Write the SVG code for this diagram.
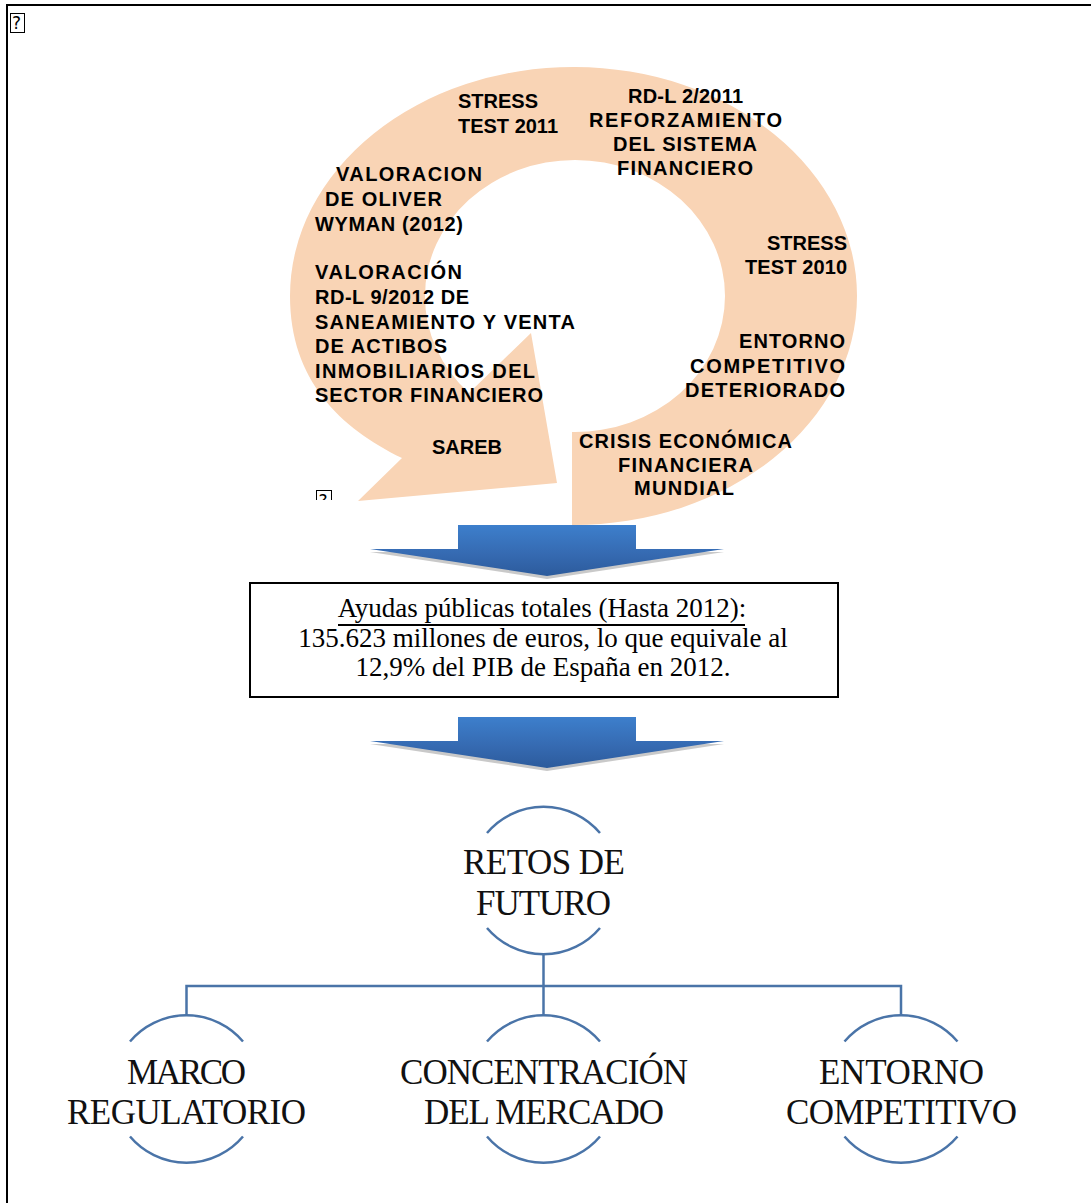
<svg xmlns="http://www.w3.org/2000/svg" width="1091" height="1203" viewBox="0 0 1091 1203">
  <defs>
    <linearGradient id="blueArrow" x1="0" y1="0" x2="0" y2="1">
      <stop offset="0" stop-color="#3D7FCC"/>
      <stop offset="0.6" stop-color="#3569B0"/>
      <stop offset="1" stop-color="#2C5B9C"/>
    </linearGradient>
    <clipPath id="clipLower">
      <rect x="300" y="470" width="60" height="30"/>
    </clipPath>
    <path id="downArrow" d="M88,0 H266 V24 H354 L177,51 L0,24 H88 Z"/>
  </defs>
  <style>
    .frame { stroke: #000; stroke-width: 2; fill: none; }
    .ring { fill: #F9D4B5; }
    .lbl { font-family: "Liberation Sans", Arial, sans-serif; font-weight: bold; font-size: 20px; fill: #000; }
    .box { fill: #fff; stroke: #000; stroke-width: 2; }
    .boxtxt { font-family: "Liberation Serif", "Times New Roman", serif; font-size: 27px; fill: #000; text-anchor: middle; }
    .arc { fill: none; stroke: #4A74A8; stroke-width: 2.5; }
    .conn { fill: none; stroke: #4A74A8; stroke-width: 2.5; }
    .ctxt { font-family: "Liberation Serif", "Times New Roman", serif; font-size: 35px; fill: #111; }
    .shadow { fill: #9C9C9C; opacity: 0.55; }
    .arrow { fill: url(#blueArrow); }
    .icon { fill: #fff; stroke: #000; stroke-width: 1; }
    .icontxt { font-family: "DejaVu Sans", sans-serif; font-size: 17px; fill: #000; }
  </style>

  <!-- page frame -->
  <path class="frame" d="M7,1203 V5 H1091"/>

  <!-- missing picture placeholders -->
  <g id="placeholder-top">
    <rect class="icon" x="10.5" y="13.5" width="14" height="19"/>
    <text class="icontxt" x="12" y="29">?</text>
  </g>
  <g id="placeholder-lower" clip-path="url(#clipLower)">
    <rect class="icon" x="316.5" y="490.5" width="15" height="19"/>
    <text class="icontxt" x="318.5" y="507">?</text>
  </g>

  <!-- circular arrow -->
  <g id="cycle-ring">
    <path class="ring" d="M572,432 L572,525
      A283.5 229 0 0 0 857,296
      A283.5 229 0 0 0 575,67
      A283.5 229 0 0 0 290,296
      C290,380 340,428 402,458
      L358,501 L557,483 L531,333 L469,393
      A150 136 0 0 1 425,296
      A150 136 0 0 1 575,160
      A150 136 0 0 1 725,296
      A150 136 0 0 1 572,432 Z"/>
  </g>

  <g id="lbl-stress-2011">
    <text class="lbl" x="458" y="108" textLength="80" lengthAdjust="spacing">STRESS</text>
    <text class="lbl" x="458" y="133" textLength="100" lengthAdjust="spacing">TEST 2011</text>
  </g>
  <g id="lbl-rdl-2-2011">
    <text class="lbl" x="628" y="103" textLength="115" lengthAdjust="spacing">RD-L 2/2011</text>
    <text class="lbl" x="589" y="127" textLength="193" lengthAdjust="spacing">REFORZAMIENTO</text>
    <text class="lbl" x="613" y="151" textLength="144" lengthAdjust="spacing">DEL SISTEMA</text>
    <text class="lbl" x="617" y="175" textLength="136" lengthAdjust="spacing">FINANCIERO</text>
  </g>
  <g id="lbl-stress-2010">
    <text class="lbl" x="767" y="250" textLength="80" lengthAdjust="spacing">STRESS</text>
    <text class="lbl" x="745" y="274" textLength="102" lengthAdjust="spacing">TEST 2010</text>
  </g>
  <g id="lbl-entorno">
    <text class="lbl" x="739" y="348" textLength="106" lengthAdjust="spacing">ENTORNO</text>
    <text class="lbl" x="690" y="373" textLength="155" lengthAdjust="spacing">COMPETITIVO</text>
    <text class="lbl" x="685" y="397" textLength="160" lengthAdjust="spacing">DETERIORADO</text>
  </g>
  <g id="lbl-crisis">
    <text class="lbl" x="579" y="448" textLength="213" lengthAdjust="spacing">CRISIS ECONÓMICA</text>
    <text class="lbl" x="618" y="472" textLength="135" lengthAdjust="spacing">FINANCIERA</text>
    <text class="lbl" x="634" y="495" textLength="100" lengthAdjust="spacing">MUNDIAL</text>
  </g>
  <g id="lbl-oliver-wyman">
    <text class="lbl" x="336" y="181" textLength="146" lengthAdjust="spacing">VALORACION</text>
    <text class="lbl" x="325" y="206" textLength="117" lengthAdjust="spacing">DE OLIVER</text>
    <text class="lbl" x="315" y="231" textLength="148" lengthAdjust="spacing">WYMAN (2012)</text>
  </g>
  <g id="lbl-rdl-9-2012">
    <text class="lbl" x="315" y="279" textLength="147" lengthAdjust="spacing">VALORACIÓN</text>
    <text class="lbl" x="315" y="304" textLength="154" lengthAdjust="spacing">RD-L 9/2012  DE</text>
    <text class="lbl" x="315" y="329" textLength="260" lengthAdjust="spacing">SANEAMIENTO Y VENTA</text>
    <text class="lbl" x="315" y="353" textLength="132" lengthAdjust="spacing">DE ACTIBOS</text>
    <text class="lbl" x="315" y="378" textLength="220" lengthAdjust="spacing">INMOBILIARIOS DEL</text>
    <text class="lbl" x="315" y="402" textLength="228" lengthAdjust="spacing">SECTOR FINANCIERO</text>
  </g>
  <g id="lbl-sareb">
    <text class="lbl" x="432" y="454" textLength="70" lengthAdjust="spacing">SAREB</text>
  </g>

  <!-- block arrows -->
  <g id="arrow-1">
    <use href="#downArrow" class="shadow" x="370" y="528"/>
    <use href="#downArrow" class="arrow" x="370" y="525"/>
  </g>

  <g id="ayudas-box">
    <rect class="box" x="250" y="583" width="588" height="114"/>
    <text class="boxtxt" x="542" y="617">Ayudas públicas totales (Hasta 2012):</text>
    <line x1="338" y1="625" x2="745" y2="625" stroke="#000" stroke-width="2"/>
    <text class="boxtxt" x="543" y="647">135.623 millones de euros, lo que equivale al</text>
    <text class="boxtxt" x="543" y="676">12,9% del PIB de España en 2012.</text>
  </g>

  <g id="arrow-2">
    <use href="#downArrow" class="shadow" x="370" y="720"/>
    <use href="#downArrow" class="arrow" x="370" y="717"/>
  </g>

  <!-- hierarchy connectors -->
  <g id="connectors">
    <path class="conn" d="M543.5,955 V1015"/>
    <path class="conn" d="M186.5,1015 V986 H901 V1015"/>
  </g>

  <g id="retos-de-futuro">
    <path class="arc" d="M487,833 A74 74 0 0 1 600,833"/>
    <path class="arc" d="M487,928 A74 74 0 0 0 600,928"/>
    <text class="ctxt" x="463" y="874" textLength="162" lengthAdjust="spacing">RETOS DE</text>
    <text class="ctxt" x="476" y="915" textLength="135" lengthAdjust="spacing">FUTURO</text>
  </g>

  <g id="marco-regulatorio">
    <path class="arc" d="M130,1041.5 A74 74 0 0 1 243,1041.5"/>
    <path class="arc" d="M130,1136.5 A74 74 0 0 0 243,1136.5"/>
    <text class="ctxt" x="127" y="1084" textLength="119" lengthAdjust="spacing">MARCO</text>
    <text class="ctxt" x="67" y="1124" textLength="239" lengthAdjust="spacing">REGULATORIO</text>
  </g>

  <g id="concentracion-mercado">
    <path class="arc" d="M487,1041.5 A74 74 0 0 1 600,1041.5"/>
    <path class="arc" d="M487,1136.5 A74 74 0 0 0 600,1136.5"/>
    <text class="ctxt" x="400" y="1084" textLength="288" lengthAdjust="spacing">CONCENTRACIÓN</text>
    <text class="ctxt" x="424" y="1124" textLength="240" lengthAdjust="spacing">DEL MERCADO</text>
  </g>

  <g id="entorno-competitivo">
    <path class="arc" d="M844.5,1041.5 A74 74 0 0 1 957.5,1041.5"/>
    <path class="arc" d="M844.5,1136.5 A74 74 0 0 0 957.5,1136.5"/>
    <text class="ctxt" x="819" y="1084" textLength="165" lengthAdjust="spacing">ENTORNO</text>
    <text class="ctxt" x="786" y="1124" textLength="231" lengthAdjust="spacing">COMPETITIVO</text>
  </g>
</svg>
